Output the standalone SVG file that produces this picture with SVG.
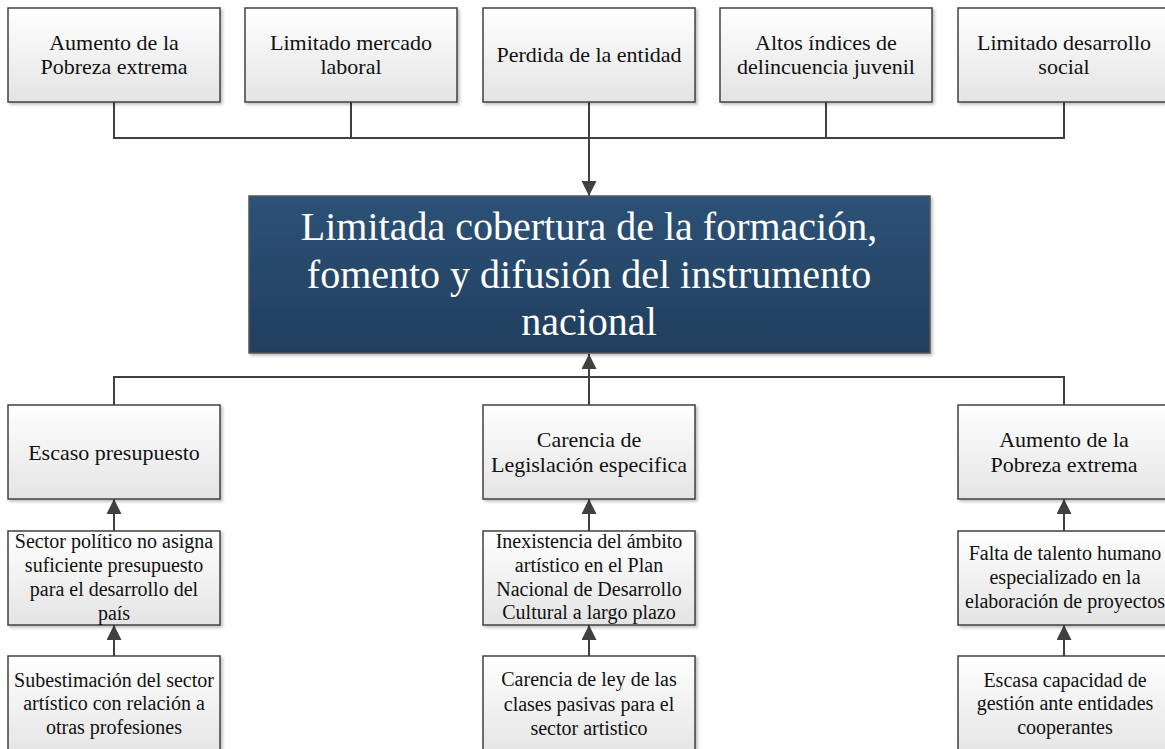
<svg xmlns="http://www.w3.org/2000/svg" width="1165" height="749" viewBox="0 0 1165 749">
<defs>
<linearGradient id="lg" x1="0" y1="0" x2="0" y2="1">
<stop offset="0" stop-color="#ffffff"/>
<stop offset="1" stop-color="#e4e4e4"/>
</linearGradient>
<linearGradient id="dg" x1="0" y1="0" x2="0" y2="1">
<stop offset="0" stop-color="#2d5277"/>
<stop offset="1" stop-color="#213e5e"/>
</linearGradient>
<filter id="sh" x="-5%" y="-5%" width="115%" height="120%">
<feDropShadow dx="2" dy="2" stdDeviation="1.5" flood-color="#000" flood-opacity="0.25"/>
</filter>
<marker id="ah" markerWidth="15" markerHeight="15" refX="15" refY="7.5" orient="auto" markerUnits="userSpaceOnUse">
<path d="M0,0 L15,7.5 L0,15 Z" fill="#404040"/>
</marker>
</defs>
<style>
.b{fill:url(#lg);stroke:#404040;stroke-width:1.5;filter:url(#sh)}
.c{fill:url(#dg);stroke:#555;stroke-width:1.5;filter:url(#sh)}
.t{font-family:"Liberation Serif","Times New Roman",serif;font-size:22px;fill:#111;text-anchor:middle}
.s{font-family:"Liberation Serif","Times New Roman",serif;font-size:20px;fill:#111;text-anchor:middle}
.w{font-family:"Liberation Serif","Times New Roman",serif;font-size:40px;fill:#fff;text-anchor:middle}
.l{fill:none;stroke:#404040;stroke-width:2}
</style>
<rect width="1165" height="749" fill="#fff"/>
<g id="connectors">
<polyline class="l" points="114,102 114,138 1064,138 1064,102"/>
<line class="l" x1="351" y1="102" x2="351" y2="138"/>
<line class="l" x1="826" y1="102" x2="826" y2="138"/>
<line class="l" x1="589" y1="102" x2="589" y2="196" marker-end="url(#ah)"/>
<polyline class="l" points="114,405 114,377 1064,377 1064,405"/>
<line class="l" x1="589" y1="405" x2="589" y2="354" marker-end="url(#ah)"/>
<line class="l" x1="114" y1="531" x2="114" y2="499" marker-end="url(#ah)"/>
<line class="l" x1="589" y1="531" x2="589" y2="499" marker-end="url(#ah)"/>
<line class="l" x1="1064" y1="531" x2="1064" y2="499" marker-end="url(#ah)"/>
<line class="l" x1="114" y1="656" x2="114" y2="625" marker-end="url(#ah)"/>
<line class="l" x1="589" y1="656" x2="589" y2="625" marker-end="url(#ah)"/>
<line class="l" x1="1064" y1="656" x2="1064" y2="625" marker-end="url(#ah)"/>
</g>
<g id="e1"><rect class="b" x="8" y="8" width="212" height="94"/><text class="t" x="114" y="50">Aumento de la</text><text class="t" x="114" y="74">Pobreza extrema</text></g>
<g id="e2"><rect class="b" x="245" y="8" width="212" height="94"/><text class="t" x="351" y="50">Limitado mercado</text><text class="t" x="351" y="74">laboral</text></g>
<g id="e3"><rect class="b" x="483" y="8" width="212" height="94"/><text class="t" x="589" y="62">Perdida de la entidad</text></g>
<g id="e4"><rect class="b" x="720" y="8" width="212" height="94"/><text class="t" x="826" y="50">Altos índices de</text><text class="t" x="826" y="74">delincuencia juvenil</text></g>
<g id="e5"><rect class="b" x="958" y="8" width="212" height="94"/><text class="t" x="1064" y="50">Limitado desarrollo</text><text class="t" x="1064" y="74">social</text></g>
<g id="central"><rect class="c" x="249" y="196" width="681" height="157"/>
<text class="w" x="589" y="240">Limitada cobertura de la formación,</text>
<text class="w" x="589" y="288">fomento y difusión del instrumento</text>
<text class="w" x="589" y="335">nacional</text></g>
<g id="c1"><rect class="b" x="8" y="405" width="212" height="94"/><text class="t" x="114" y="460">Escaso presupuesto</text></g>
<g id="c2"><rect class="b" x="483" y="405" width="212" height="94"/><text class="t" x="589" y="447">Carencia de</text><text class="t" x="589" y="472">Legislación especifica</text></g>
<g id="c3"><rect class="b" x="958" y="405" width="212" height="94"/><text class="t" x="1064" y="447">Aumento de la</text><text class="t" x="1064" y="472">Pobreza extrema</text></g>
<g id="c1a"><rect class="b" x="8" y="531" width="212" height="94"/><text class="s" x="114" y="548">Sector político no asigna</text><text class="s" x="114" y="572">suficiente presupuesto</text><text class="s" x="114" y="596">para el desarrollo del</text><text class="s" x="114" y="620">país</text></g>
<g id="c2a"><rect class="b" x="483" y="531" width="212" height="94"/><text class="s" x="589" y="548">Inexistencia del ámbito</text><text class="s" x="589" y="572">artístico en el Plan</text><text class="s" x="589" y="596">Nacional de Desarrollo</text><text class="s" x="589" y="619">Cultural a largo plazo</text></g>
<g id="c3a"><rect class="b" x="958" y="531" width="212" height="94"/><text class="s" x="1065" y="560">Falta de talento humano</text><text class="s" x="1065" y="584">especializado en la</text><text class="s" x="1065" y="608">elaboración de proyectos</text></g>
<g id="c1b"><rect class="b" x="8" y="656" width="212" height="100"/><text class="s" x="114" y="687">Subestimación del sector</text><text class="s" x="114" y="710">artístico con relación a</text><text class="s" x="114" y="734">otras profesiones</text></g>
<g id="c2b"><rect class="b" x="483" y="656" width="212" height="100"/><text class="s" x="589" y="686">Carencia de ley de las</text><text class="s" x="589" y="711">clases pasivas para el</text><text class="s" x="589" y="735">sector artistico</text></g>
<g id="c3b"><rect class="b" x="958" y="656" width="212" height="100"/><text class="s" x="1065" y="687">Escasa capacidad de</text><text class="s" x="1065" y="710">gestión ante entidades</text><text class="s" x="1065" y="734">cooperantes</text></g>
</svg>
